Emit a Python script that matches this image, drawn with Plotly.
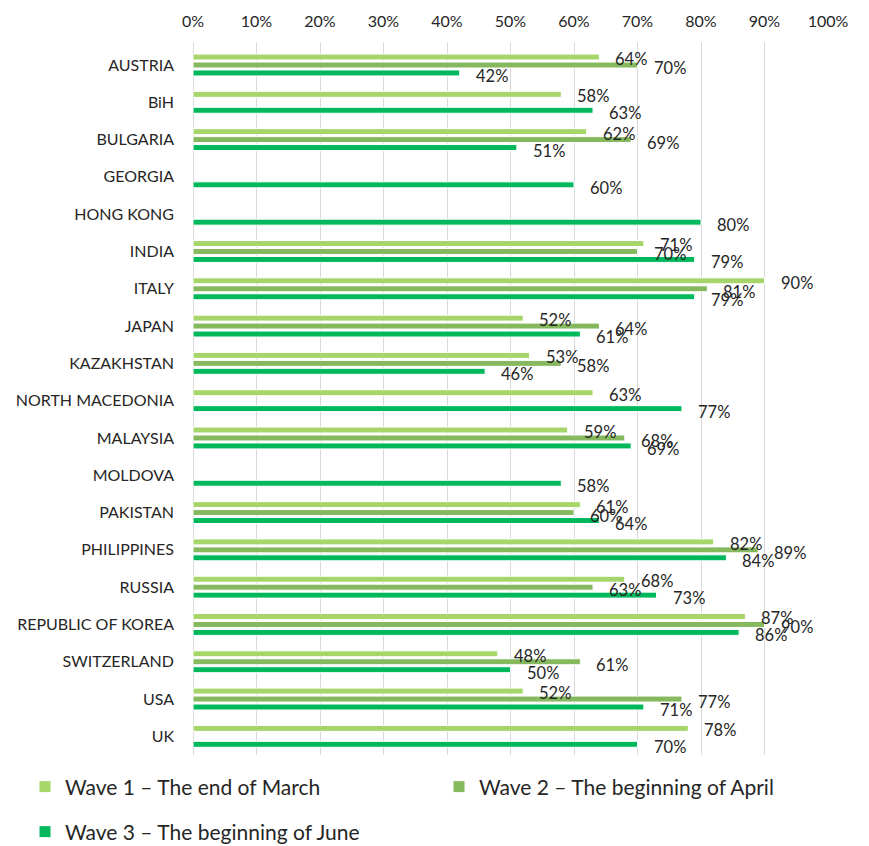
import plotly.graph_objects as go

categories = ["AUSTRIA", "BiH", "BULGARIA", "GEORGIA", "HONG KONG", "INDIA", "ITALY",
              "JAPAN", "KAZAKHSTAN", "NORTH MACEDONIA", "MALAYSIA", "MOLDOVA",
              "PAKISTAN", "PHILIPPINES", "RUSSIA", "REPUBLIC OF KOREA",
              "SWITZERLAND", "USA", "UK"]
wave1 = [64, 58, 62, None, None, 71, 90, 52, 53, 63, 59, None, 61, 82, 68, 87, 48, 52, 78]
wave2 = [70, None, 69, None, None, 70, 81, 64, 58, None, 68, None, 60, 89, 63, 90, 61, 77, None]
wave3 = [42, 63, 51, 60, 80, 79, 79, 61, 46, 77, 69, 58, 64, 84, 73, 86, 50, 71, 70]
names = ["Wave 1 – The end of March", "Wave 2 – The beginning of April",
         "Wave 3 – The beginning of June"]
x_ticks = list(range(0, 101, 10))

colors = ["#A6D66A", "#86B85D", "#00B85C"]
series = [wave1, wave2, wave3]
legends = ["legend2", "legend3", "legend4"]
FONT = "Lato, 'Open Sans', sans-serif"
TXT = "#262626"

fig = go.Figure()
for vals, name, col, lg in zip(series, names, colors, legends):
    fig.add_trace(go.Bar(
        y=categories, x=vals, name=name, orientation="h",
        marker=dict(color=col, line=dict(color="white", width=1)),
        legend=lg, hoverinfo="x+y",
    ))

annotations = []
yshifts = [6, -3, -11]
for vals, ys in zip(series, yshifts):
    for cat, v in zip(categories, vals):
        if v is None:
            continue
        annotations.append(dict(
            x=v, y=cat, xref="x", yref="y", text=f"{v}%", showarrow=False,
            xanchor="left", yanchor="middle", xshift=14, yshift=ys,
            font=dict(family=FONT, size=16.5, color=TXT),
        ))

leg_common = dict(orientation="h", yanchor="middle", xanchor="left",
                  font=dict(family=FONT, size=21, color=TXT),
                  bgcolor="rgba(0,0,0,0)")

# page body has an 8px default margin, so the figure is 8px smaller each way
W, H = 861, 838
ml, mr, mt, mb = 185, 41, 34, 91
ph = H - mt - mb
pw = W - ml - mr


def lx(px):
    return (px - 8 - ml) / pw


def ly(py):
    return 1 - (py - 8 - mt) / ph


fig.update_layout(
    width=W, height=H,
    margin=dict(l=ml, r=mr, t=mt, b=mb, autoexpand=False),
    paper_bgcolor="white", plot_bgcolor="white",
    barmode="group", bargap=0.36, bargroupgap=0.25,
    font=dict(family=FONT, size=16, color=TXT),
    annotations=annotations,
    xaxis=dict(
        side="top", range=[0, 100], tickvals=x_ticks,
        ticktext=[f"{t}%" for t in x_ticks],
        showgrid=True, gridcolor="#D9D9D9", gridwidth=1,
        zeroline=True, zerolinecolor="#D9D9D9", zerolinewidth=1,
        showline=False, tickfont=dict(family=FONT, size=16, color=TXT),
        ticklabelstandoff=11,
        fixedrange=True, automargin=False,
    ),
    yaxis=dict(
        autorange="reversed", showgrid=False, zeroline=False, showline=False,
        ticklabelstandoff=18, tickfont=dict(family=FONT, size=16, color=TXT),
        fixedrange=True, automargin=False,
    ),
    legend2=dict(x=lx(25), y=ly(787), **leg_common),
    legend3=dict(x=lx(439), y=ly(787), **leg_common),
    legend4=dict(x=lx(25), y=ly(832), **leg_common),
)

fig.write_html("out.html")
